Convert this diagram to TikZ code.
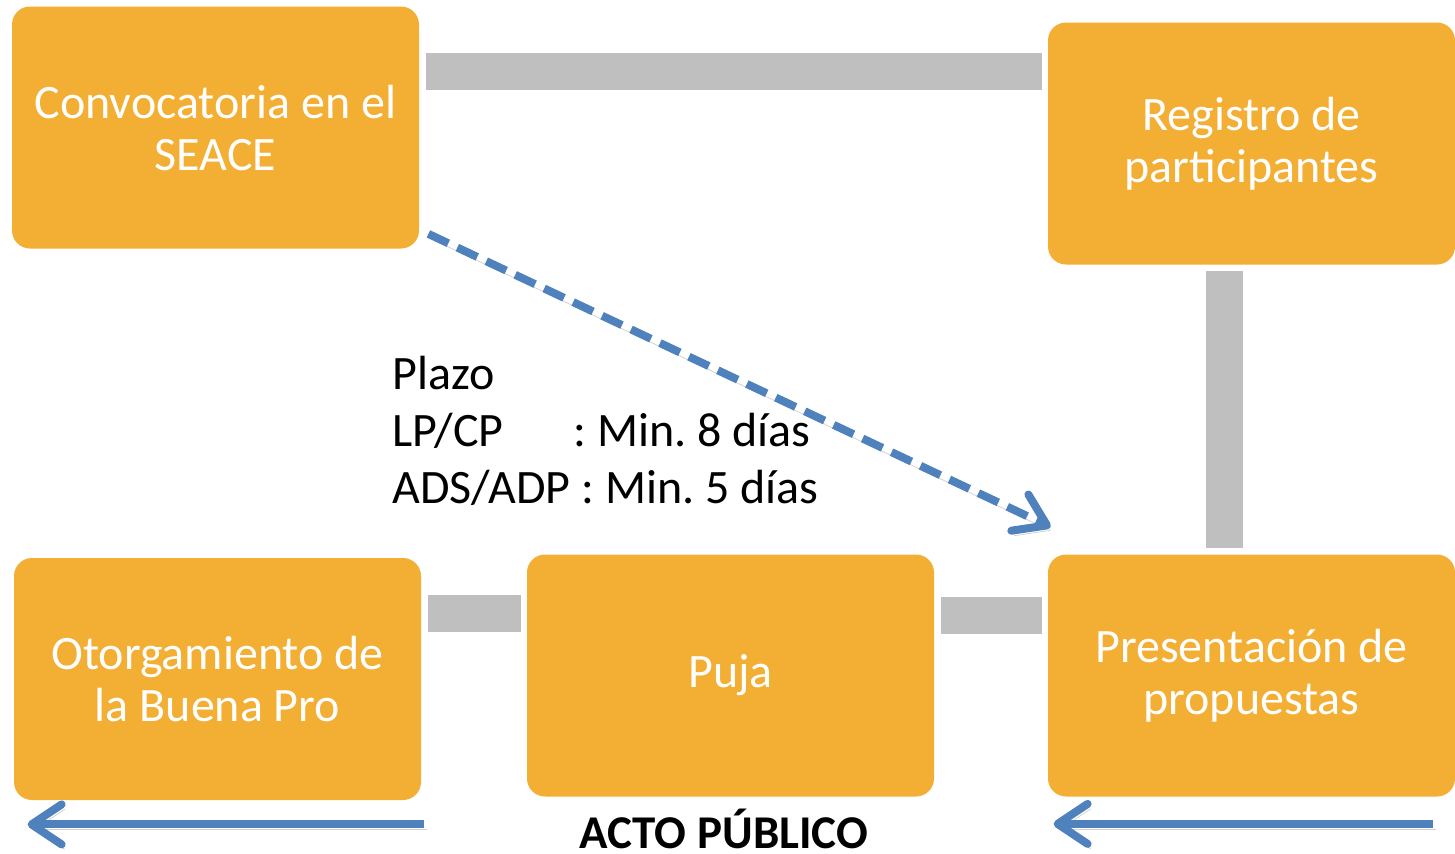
\documentclass[tikz,border=0pt]{standalone}
\usepackage{fontspec}
\setmainfont{Carlito}
\usetikzlibrary{arrows.meta,calc}
\definecolor{boxorange}{RGB}{243,174,52}
\definecolor{linkgray}{RGB}{191,191,191}
\definecolor{arrowblue}{RGB}{79,129,189}

\begin{document}
\begin{tikzpicture}[x=0.5pt, y=-0.5pt,
  box/.style={rounded corners=9pt, fill=boxorange, text=white, minimum width=203.5pt, minimum height=121pt, inner sep=0pt, align=center, font=\fontsize{24}{26}\selectfont},
  link/.style={draw=linkgray, line width=18.5pt},
  flow/.style={draw=arrowblue, line width=4pt, -{Straight Barb[length=15pt,width=20pt,round]}, preaction={draw=black!35, opacity=0.5, transform canvas={shift={(1.5pt,-2.5pt)}}}}]

\useasboundingbox (0,0) rectangle (1455,853);
% steps
\foreach \name/\x/\y/\txt in {conv/215.5/127.5/Convocatoria en el\\SEACE, reg/1251.5/143.5/Registro de\\participantes, pres/1251.5/675.5/Presentación de\\propuestas, puja/730.5/675.5/Puja, otor/217.5/679/Otorgamiento de\\la Buena Pro}
  \node[box] (\name) at (\x,\y) {\txt};
% gray links between steps
\coordinate (top) at (0,71.5);
\draw[link] ($(conv.east |- top)+(7,0)$) -- ($(reg.west |- top)+(-6,0)$);
\draw[link] ($(reg.south)+(-27,6)$) -- ($(pres.north)+(-27,-6)$);
\draw[link] ($(puja.east)+(7,-60)$) -- ($(pres.west)+(-6,-60)$);
\draw[link] ($(otor.east)+(7,-65.5)$) -- ($(puja.west)+(-6,-62)$);
% term
\draw[flow, dash pattern=on 11pt off 5pt] ($(conv.south east)+(9,-15)$) -- ($(pres.north west)+(3,-27)$);
\node[anchor=north west, inner sep=0pt, align=left, font=\fontsize{24}{28.5}\selectfont\frenchspacing] (plazo) at (392,356) {Plazo\\\makebox[90.5pt][l]{LP/CP}: Min. 8 días\\ADS/ADP : Min. 5 días};
% public act
\draw[flow] ($(otor.south east)+(3,24)$) -- ($(otor.south west)+(14,24)$);
\draw[flow] ($(pres.south east)+(-22,27)$) -- ($(pres.south west)+(6,27)$);
\node[anchor=base, inner sep=0pt, font=\fontsize{23.5}{27}\selectfont\bfseries] (acto) at (724,848) {ACTO PÚBLICO};
\end{tikzpicture}
\end{document}
